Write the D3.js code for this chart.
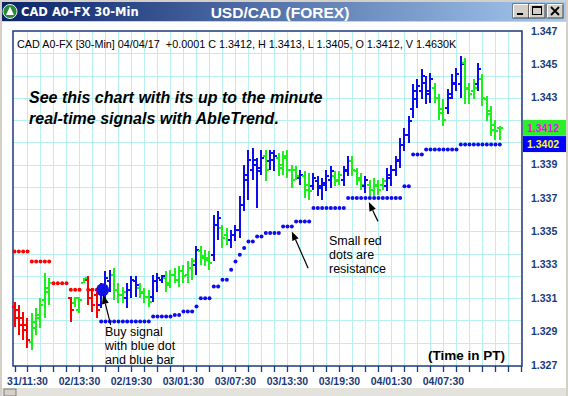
<!DOCTYPE html>
<html>
<head>
<meta charset="utf-8">
<script src="https://cdn.jsdelivr.net/npm/d3@7"></script>
<style>
html, body { margin: 0; padding: 0; background: #d4d0c8; }
svg { display: block; font-family: Arial, "Liberation Sans", sans-serif; }
</style>
</head>
<body>
<div id="chart"></div>
<script>
// bar colour codes: r = red (down), g = green (caution), b = blue (up), _ = no bar
const barColor = ("rrrrggggg____rgggrrrbbbgggbbbgggbbbggggggg" +
  "bgggbbggbbbbbbbbgbbgggggbggbbbbbggbbgggbggggbbbbbbbbbbbgggbbbbgggbggggg").split("");

const high = [1.3308,1.3306,1.3302,1.3298,1.3301,1.3304,1.3310,1.3325,1.3322,null,null,null,null,
  1.3311,1.3311,1.3311,1.3322,1.3323,1.3316,1.3314,1.3319,1.3326,1.3327,1.3328,1.3319,1.3317,
  1.3319,1.3323,1.3323,1.3319,1.3316,1.3315,1.3324,1.3325,1.3324,1.3326,1.3327,1.3328,1.3329,
  1.3330,1.3332,1.3334,1.3341,1.3341,1.3339,1.3338,1.3360,1.3362,1.3354,1.3352,1.3351,1.3354,
  1.3371,1.3390,1.3399,1.3400,1.3394,1.3399,1.3399,1.3399,1.3399,1.3397,1.3398,1.3399,1.3390,
  1.3389,1.3387,1.3386,1.3385,1.3385,1.3383,1.3382,1.3387,1.3389,1.3386,1.3386,1.3389,1.3395,
  1.3395,1.3388,1.3385,1.3383,1.3381,1.3382,1.3381,1.3382,1.3388,1.3390,1.3395,1.3406,1.3412,
  1.3419,1.3438,1.3441,1.3447,1.3443,1.3445,1.3439,1.3432,1.3429,1.3435,1.3444,1.3448,1.3455,
  1.3454,1.3439,1.3441,1.3451,1.3444,1.3431,1.3425,1.3417,1.3413];

const low = [1.3293,1.3288,1.3285,1.3280,1.3279,1.3288,1.3292,1.3298,1.3306,null,null,null,null,
  1.3296,1.3305,1.3301,1.3319,1.3306,1.3302,1.3298,1.3304,1.3309,1.3314,1.3309,1.3307,1.3307,
  1.3304,1.3310,1.3311,1.3310,1.3307,1.3305,1.3308,1.3314,1.3319,1.3314,1.3316,1.3319,1.3317,
  1.3319,1.3319,1.3321,1.3324,1.3330,1.3329,1.3327,1.3332,1.3345,1.3340,1.3342,1.3340,1.3344,
  1.3346,1.3362,1.3369,1.3381,1.3364,1.3384,1.3380,1.3387,1.3386,1.3383,1.3384,1.3382,1.3376,
  1.3381,1.3378,1.3370,1.3369,1.3375,1.3371,1.3369,1.3374,1.3376,1.3377,1.3378,1.3377,1.3383,
  1.3383,1.3378,1.3375,1.3373,1.3371,1.3371,1.3372,1.3375,1.3374,1.3377,1.3383,1.3388,1.3398,
  1.3403,1.3418,1.3424,1.3429,1.3426,1.3427,1.3427,1.3417,1.3413,1.3420,1.3429,1.3434,1.3430,
  1.3426,1.3426,1.3429,1.3434,1.3425,1.3416,1.3407,1.3405,1.3405];

const open = [1.3305,1.3303,1.3298,1.3294,1.3284,1.3292,1.3298,1.3309,1.3314,null,null,null,null,
  1.3310,1.3307,1.3303,1.3319,1.3321,1.3315,1.3312,1.3306,1.3315,1.3320,1.3324,1.3315,1.3312,
  1.3310,1.3315,1.3320,1.3316,1.3314,1.3311,1.3311,1.3320,1.3321,1.3322,1.3319,1.3324,1.3321,
  1.3326,1.3324,1.3328,1.3330,1.3338,1.3335,1.3334,1.3336,1.3354,1.3352,1.3348,1.3345,1.3348,
  1.3351,1.3366,1.3381,1.3387,1.3390,1.3388,1.3395,1.3392,1.3393,1.3394,1.3390,1.3395,1.3387,
  1.3387,1.3382,1.3383,1.3378,1.3377,1.3380,1.3376,1.3378,1.3381,1.3383,1.3381,1.3381,1.3387,
  1.3392,1.3386,1.3382,1.3377,1.3378,1.3375,1.3377,1.3378,1.3377,1.3382,1.3387,1.3393,1.3402,
  1.3408,1.3423,1.3429,1.3434,1.3439,1.3434,1.3436,1.3430,1.3423,1.3424,1.3432,1.3438,1.3438,
  1.3451,1.3436,1.3434,1.3438,1.3441,1.3429,1.3422,1.3414,1.3412];

const close = [1.3298,1.3294,1.3291,1.3285,1.3296,1.3300,1.3306,1.3316,1.3319,null,null,null,null,
  1.3303,1.3310,1.3309,1.3322,1.3310,1.3306,1.3303,1.3316,1.3322,1.3324,1.3315,1.3312,1.3314,
  1.3315,1.3321,1.3318,1.3313,1.3311,1.3308,1.3320,1.3322,1.3323,1.3318,1.3324,1.3321,1.3326,
  1.3323,1.3328,1.3332,1.3339,1.3334,1.3333,1.3331,1.3354,1.3358,1.3346,1.3345,1.3348,1.3351,
  1.3366,1.3384,1.3393,1.3393,1.3386,1.3394,1.3387,1.3397,1.3395,1.3388,1.3394,1.3387,1.3381,
  1.3383,1.3384,1.3375,1.3374,1.3382,1.3377,1.3379,1.3383,1.3386,1.3380,1.3384,1.3386,1.3392,
  1.3387,1.3381,1.3378,1.3381,1.3375,1.3378,1.3375,1.3380,1.3384,1.3387,1.3392,1.3402,1.3408,
  1.3416,1.3434,1.3437,1.3443,1.3432,1.3441,1.3430,1.3421,1.3417,1.3430,1.3439,1.3444,1.3450,
  1.3435,1.3432,1.3436,1.3447,1.3430,1.3420,1.3411,1.3410,1.3412];

// red resistance dots, bars 0..19
const resistance = [1.3338,1.3338,1.3338,1.3338,1.3332,1.3332,1.3332,1.3332,1.3332,
  1.3319,1.3319,1.3319,1.3319,1.3315,1.3315,1.3315,null,1.3315,1.3315,1.3315];

// blue support dots, from bar 20 on
const supportStart = 20;
const support = [1.3296,1.3296,1.3296,1.3296,1.3296,1.3296,1.3296,1.3296,1.3296,1.3296,1.3296,1.3296,
  1.3299,1.3299,1.3299,1.3299,1.3299,1.3300,1.3300,1.3302,1.3302,1.3302,1.3305,1.3310,1.3310,1.3310,
  1.3317,1.3317,1.3321,1.3321,1.3327,1.3332,1.3336,1.3340,1.3344,1.3344,1.3347,1.3347,
  1.3349,1.3349,1.3349,1.3349,1.3353,1.3353,1.3353,1.3356,1.3356,1.3356,1.3356,
  1.3364,1.3364,1.3364,1.3364,1.3364,1.3364,1.3364,1.3364,
  1.3370,1.3370,1.3370,1.3370,1.3370,1.3370,1.3370,1.3370,1.3370,1.3370,1.3370,1.3370,1.3370,
  1.3377,1.3377,1.3396,1.3396,1.3396,
  1.3399,1.3399,1.3399,1.3399,1.3399,1.3399,1.3399,1.3399,
  1.3402,1.3402,1.3402,1.3402,1.3402,1.3402,1.3402,1.3402,1.3402,1.3402];

const buyBar = 20, buyPrice = 1.3315;
const priceTicks = [1.327, 1.329, 1.331, 1.333, 1.335, 1.337, 1.339, 1.343, 1.345, 1.347];
const timeLabels = ["31/11:30","02/13:30","02/19:30","03/01:30","03/07:30","03/13:30","03/19:30","04/01:30","04/07:30"];
const lastClose = 1.3412, lastStop = 1.3402;

const W = 568, H = 396;
const plot = {left: 13, right: 522, top: 31, bottom: 366};
const col = {r: "#ff0000", g: "#1cf01c", b: "#0c0cf0"};
const navy = "#1b3a7a";

const x = d3.scaleLinear().domain([0, 112]).range([14.5, 499.8]);
const y = d3.scaleLinear().domain([1.327, 1.347]).range([365, 31]);

const svg = d3.select("#chart").append("svg").attr("width", W).attr("height", H);

// window chrome
svg.append("rect").attr("width", W).attr("height", H).attr("fill", "#d4d0c8");
const defs = svg.append("defs");
const grad = defs.append("linearGradient").attr("id", "tb");
grad.append("stop").attr("offset", "0%").attr("stop-color", "#0a246a");
grad.append("stop").attr("offset", "100%").attr("stop-color", "#a6caf0");
svg.append("rect").attr("x", 2).attr("y", 2).attr("width", W - 4).attr("height", 19).attr("fill", "url(#tb)");
svg.append("circle").attr("cx", 10).attr("cy", 11.5).attr("r", 7).attr("fill", "#2a8a3a").attr("stroke", "#e8f0e8").attr("stroke-width", 1);
svg.append("path").attr("d", "M10,6.5 L14,15 L6,15 Z").attr("fill", "#ffffff");
svg.append("text").attr("x", 21).attr("y", 16).attr("fill", "#fff").attr("font-weight", "bold")
  .attr("font-size", 11.5).attr("font-family", "Tahoma, 'DejaVu Sans', sans-serif").text("CAD A0-FX 30-Min");
svg.append("text").attr("x", 280).attr("y", 17.5).attr("text-anchor", "middle").attr("fill", "#fff")
  .attr("font-weight", "bold").attr("font-size", 15.5).text("USD/CAD (FOREX)");

const btnX = [513, 529, 547];
btnX.forEach((bx, i) => {
  svg.append("rect").attr("x", bx).attr("y", 4).attr("width", 16).attr("height", 14)
    .attr("fill", "#d4d0c8").attr("stroke", "#404040").attr("stroke-width", 1);
  svg.append("path").attr("d", `M${bx + 0.5},${17.5} V${4.5} H${bx + 15.5}`).attr("fill", "none").attr("stroke", "#fff");
});
svg.append("rect").attr("x", 517).attr("y", 13).attr("width", 6).attr("height", 2).attr("fill", "#000");
svg.append("rect").attr("x", 532.5).attr("y", 6.5).attr("width", 9).attr("height", 8).attr("fill", "none").attr("stroke", "#000").attr("stroke-width", 1);
svg.append("rect").attr("x", 532).attr("y", 6).attr("width", 10).attr("height", 2).attr("fill", "#000");
svg.append("path").attr("d", "M551,7 L559,15 M559,7 L551,15").attr("stroke", "#000").attr("stroke-width", 1.8);

svg.append("rect").attr("x", 2).attr("y", 22).attr("width", W - 4).attr("height", 366).attr("fill", "#fff");
svg.append("rect").attr("x", 2).attr("y", 388).attr("width", W - 4).attr("height", 8).attr("fill", "#e4e2dc");
svg.append("rect").attr("x", 4).attr("y", 389).attr("width", 12).attr("height", 7).attr("fill", "#d4d0c8").attr("stroke", "#808080");

// grid
const g = svg.append("g");
const hGrid = d3.range(1, 15).map(k => 1.327 + k * 0.02 / 15);
g.selectAll(".hg").data(hGrid).enter().append("line")
  .attr("x1", plot.left).attr("x2", plot.right)
  .attr("y1", d => Math.round(y(d)) + 0.5).attr("y2", d => Math.round(y(d)) + 0.5)
  .attr("stroke", "#b8f0f0").attr("stroke-width", 1);
const vIdx = d3.range(3, 118, 3);
g.selectAll(".vg").data(vIdx).enter().append("line")
  .attr("x1", d => Math.round(x(d)) + 0.5).attr("x2", d => Math.round(x(d)) + 0.5)
  .attr("y1", plot.top).attr("y2", plot.bottom)
  .attr("stroke", "#b8f0f0").attr("stroke-width", 1);

// frame
svg.append("rect").attr("x", plot.left).attr("y", plot.top)
  .attr("width", plot.right - plot.left).attr("height", plot.bottom - plot.top)
  .attr("fill", "none").attr("stroke", navy).attr("stroke-width", 1.5);

// bottom ticks + labels
svg.selectAll(".xt").data(d3.range(0, 118, 3)).enter().append("line")
  .attr("x1", d => Math.round(x(d)) + 0.5).attr("x2", d => Math.round(x(d)) + 0.5)
  .attr("y1", plot.bottom).attr("y2", plot.bottom + 6)
  .attr("stroke", navy).attr("stroke-width", 1.3);
svg.selectAll(".xl").data(timeLabels).enter().append("text")
  .attr("x", (d, i) => x(3 + 12 * i)).attr("y", 385)
  .attr("text-anchor", "middle").attr("font-size", 10.5).attr("font-weight", "bold")
  .attr("fill", navy).text(d => d);

// right price labels
svg.selectAll(".yl").data(priceTicks).enter().append("text")
  .attr("x", 531).attr("y", d => y(d)).attr("dy", "0.35em")
  .attr("font-size", 10.5).attr("font-weight", "bold").attr("fill", navy)
  .text(d => d.toFixed(3));

// header line
svg.append("text").attr("x", 17).attr("y", 48).attr("font-size", 10.8).attr("fill", "#000")
  .attr("xml:space", "preserve")
  .text("CAD A0-FX [30-Min] 04/04/17  +0.0001 C 1.3412, H 1.3413, L 1.3405, O 1.3412, V 1.4630K");

// resistance / support dots
svg.selectAll(".rd").data(resistance.map((v, i) => ({i, v})).filter(d => d.v != null)).enter()
  .append("circle").attr("cx", d => x(d.i)).attr("cy", d => y(d.v)).attr("r", 2).attr("fill", col.r);
svg.selectAll(".sd").data(support.map((v, i) => ({i: i + supportStart, v}))).enter()
  .append("circle").attr("cx", d => x(d.i)).attr("cy", d => y(d.v)).attr("r", 2).attr("fill", col.b);

// OHLC bars
const bars = barColor.map((c, i) => ({i, c, h: high[i], l: low[i], o: open[i], cl: close[i]}))
  .filter(d => d.c !== "_");
const bg = svg.append("g").attr("shape-rendering", "crispEdges");
bars.forEach(d => {
  const cx = Math.round(x(d.i));
  const fill = col[d.c];
  const yh = Math.round(y(d.h)), yl = Math.round(y(d.l));
  bg.append("rect").attr("x", cx - 1).attr("y", yh).attr("width", 2).attr("height", Math.max(2, yl - yh)).attr("fill", fill);
  bg.append("rect").attr("x", cx - 3).attr("y", Math.round(y(d.o)) - 1).attr("width", 2).attr("height", 2).attr("fill", fill);
  bg.append("rect").attr("x", cx + 1).attr("y", Math.round(y(d.cl)) - 1).attr("width", 2).attr("height", 2).attr("fill", fill);
});

// buy signal dot
svg.append("circle").attr("cx", x(buyBar) + 1.5).attr("cy", y(buyPrice)).attr("r", 6.5).attr("fill", "#1010e8");

// last price boxes
svg.append("rect").attr("x", 523).attr("y", y(lastClose) - 8).attr("width", 43).attr("height", 16).attr("fill", "#2af02a");
svg.append("text").attr("x", 527).attr("y", y(lastClose)).attr("dy", "0.36em").attr("font-size", 10.5)
  .attr("font-weight", "bold").attr("fill", "#ff00ff").text(lastClose.toFixed(4));
svg.append("rect").attr("x", 523).attr("y", y(lastStop) - 8.5).attr("width", 43).attr("height", 16).attr("fill", "#0000ff");
svg.append("text").attr("x", 527).attr("y", y(lastStop) - 0.5).attr("dy", "0.36em").attr("font-size", 10.5)
  .attr("font-weight", "bold").attr("fill", "#ffff00").text(lastStop.toFixed(4));

// annotations
const note = svg.append("g").attr("fill", "#000");
note.append("text").attr("x", 29).attr("y", 103).attr("font-size", 16).attr("font-weight", "bold")
  .attr("font-style", "italic").text("See this chart with its up to the minute");
note.append("text").attr("x", 29).attr("y", 124).attr("font-size", 16).attr("font-weight", "bold")
  .attr("font-style", "italic").text("real-time signals with AbleTrend.");
["Buy signal", "with blue dot", "and blue bar"].forEach((t, k) =>
  note.append("text").attr("x", 105).attr("y", 336 + 14 * k).attr("font-size", 12.5).text(t));
["Small red", "dots are", "resistance"].forEach((t, k) =>
  note.append("text").attr("x", 329).attr("y", 245 + 14 * k).attr("font-size", 12.5).text(t));
note.append("text").attr("x", 428).attr("y", 360).attr("font-size", 13.5).attr("font-weight", "bold").text("(Time in PT)");

function arrow(x1, y1, x2, y2) {
  const a = Math.atan2(y2 - y1, x2 - x1), L = 9, w = 3.5;
  const bx = x2 - L * Math.cos(a), by = y2 - L * Math.sin(a);
  svg.append("line").attr("x1", x1).attr("y1", y1).attr("x2", bx).attr("y2", by)
    .attr("stroke", "#000").attr("stroke-width", 1.2);
  svg.append("path").attr("d", `M${x2},${y2} L${bx + w * Math.sin(a)},${by - w * Math.cos(a)} L${bx - w * Math.sin(a)},${by + w * Math.cos(a)} Z`)
    .attr("fill", "#000");
}
arrow(x(buyBar + 2.2), y(1.3294), x(buyBar) + 2, y(buyPrice) + 5);
arrow(x(68) - 1, y(1.3328), x(64), y(1.3353) + 5);
arrow(x(84) - 0.5, y(1.3356), x(82) - 1, y(1.3370) + 4);
</script>
</body>
</html>
